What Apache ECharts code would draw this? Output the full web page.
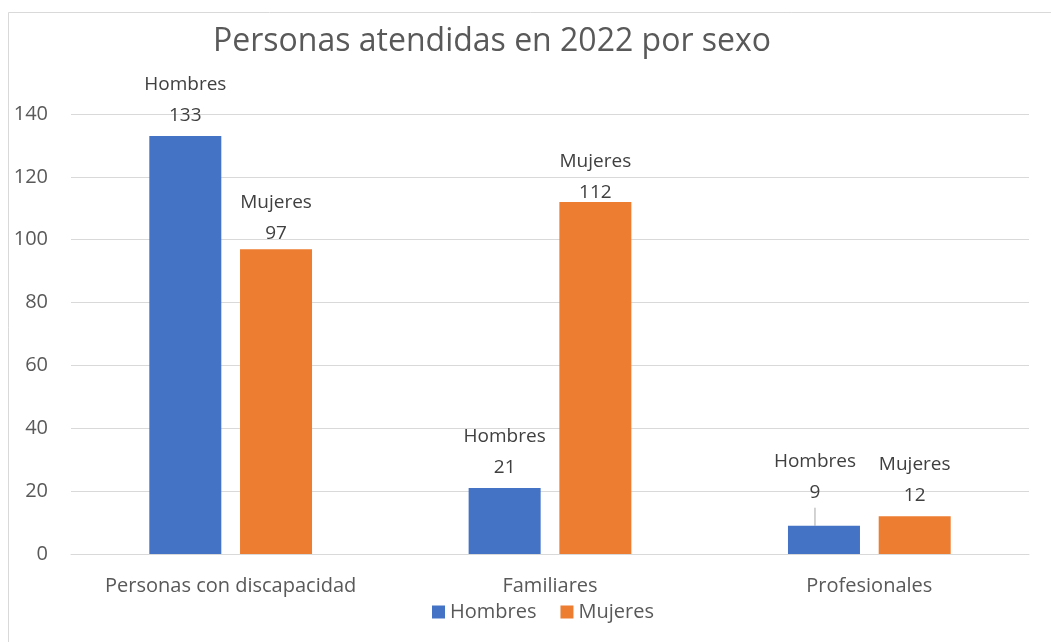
<!DOCTYPE html>
<html>

<head>
    <title>Personas atendidas en 2022 por sexo</title>
    <meta charset="utf-8">
    <script src="https://cdn.jsdelivr.net/npm/echarts@6/dist/echarts.min.js"></script>
    <style>
        html, body { margin: 0; padding: 0; background: #fff; }
    </style>
</head>

<body>
    <div id="main" style="width: 1051px;height:642px;"></div>

    <script type="text/javascript">
        var myChart = echarts.init(document.getElementById('main'));

        // categories and values
        var categories = ['Personas con discapacidad', 'Familiares', 'Profesionales'];
        var hombres = [133, 21, 9];
        var mujeres = [97, 112, 12];
        var yTicks = [0, 20, 40, 60, 80, 100, 120, 140];

        var fontName = '"Open Sans", sans-serif';

        var labelStyle = {
            show: true,
            position: 'top',
            formatter: '{a}\n{c}',
            fontFamily: fontName,
            fontSize: 19,
            lineHeight: 31,
            color: '#404040'
        };

        // only the small "Profesionales" bar gets a leader line
        var hombresData = hombres.map(function (v, i) {
            return i === 2 ? { value: v, labelLine: { show: true } } : v;
        });

        var option = {
            backgroundColor: '#fff',
            animation: false,
            color: ['#4472C4', '#ED7D31'],
            title: {
                text: 'Personas atendidas en 2022 por sexo',
                left: 487,
                top: 21,
                textAlign: 'center',
                textStyle: {
                    fontFamily: fontName,
                    fontSize: 32,
                    fontWeight: 'normal',
                    color: '#595959'
                }
            },
            // thin frame round the chart area
            graphic: [{
                type: 'rect',
                shape: { x: 8.5, y: 12.5, width: 1100, height: 700 },
                style: { fill: 'none', stroke: '#d9d9d9', lineWidth: 1 },
                silent: true
            }],
            legend: {
                bottom: 15,
                left: 427,
                itemWidth: 13,
                itemHeight: 13,
                itemGap: 24,
                icon: 'rect',
                textStyle: {
                    fontFamily: fontName,
                    fontSize: 20,
                    color: '#595959'
                }
            },
            grid: {
                left: 71,
                right: 22,
                top: 114,
                bottom: 88,
                containLabel: false
            },
            xAxis: {
                type: 'category',
                data: categories,
                axisLine: { lineStyle: { color: '#d9d9d9', width: 1 } },
                axisTick: { show: false },
                axisLabel: {
                    interval: 0,
                    margin: 22,
                    fontFamily: fontName,
                    fontSize: 20,
                    color: '#595959'
                }
            },
            yAxis: {
                type: 'value',
                min: yTicks[0],
                max: yTicks[yTicks.length - 1],
                interval: 20,
                axisLine: { show: false },
                axisTick: { show: false },
                splitLine: { lineStyle: { color: '#d9d9d9', width: 1 } },
                axisLabel: {
                    margin: 23,
                    fontFamily: fontName,
                    fontSize: 20,
                    color: '#595959'
                }
            },
            series: [{
                name: 'Hombres',
                type: 'bar',
                data: hombresData,
                barWidth: 72,
                barGap: '26%',
                label: labelStyle,
                labelLayout: function (params) {
                    if (params.dataIndex === 2) {
                        return { dx: -9, dy: -13 };
                    }
                },
                labelLine: {
                    show: false,
                    lineStyle: { color: '#a6a6a6', width: 1 }
                }
            }, {
                name: 'Mujeres',
                type: 'bar',
                data: mujeres,
                barWidth: 72,
                label: labelStyle,
                labelLayout: function (params) {
                    if (params.dataIndex === 0) {
                        return { dy: 5 };
                    }
                    if (params.dataIndex === 1) {
                        return { dy: 11 };
                    }
                }
            }]
        };

        myChart.setOption(option);
    </script>
</body>

</html>
